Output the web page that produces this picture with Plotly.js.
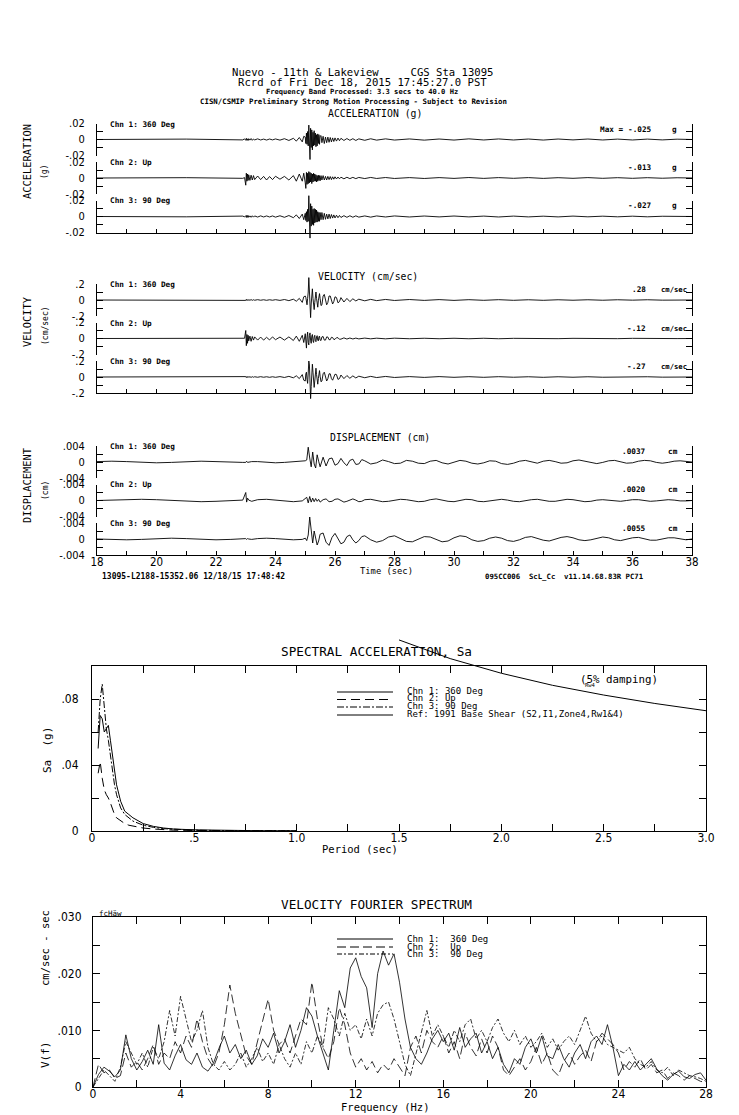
<!DOCTYPE html>
<html><head><meta charset="utf-8">
<script src="https://cdn.plot.ly/plotly-3.0.1.min.js"></script>
<style>html,body{margin:0;padding:0;background:#fff}</style>
</head><body><div id="chart" style="width:739px;height:1115px"></div>
<script>
// ---------------- DATA ----------------
const tAcc = [18.0,21.0,22.9,22.96,
 23.0,23.02,23.04,23.06,23.08,23.1,
 23.14,23.18,23.22,23.26,23.3,
 23.4,23.5,23.6,23.7,23.8,23.9,24.0,
 24.15,24.3,24.45,24.6,24.7,24.8,24.9,24.95,
 25.0,25.02,25.04,25.06,25.08,25.1,25.12,25.14,25.16,25.18,25.2,25.22,25.24,25.26,25.28,25.3,25.32,25.34,25.36,25.38,25.4,25.42,25.44,25.46,25.48,25.5,
 25.53,25.56,25.6,
 25.64,25.68,25.72,25.76,25.8,25.84,25.88,25.92,25.96,26.0,
 26.05,26.1,26.15,26.2,
 26.3,26.4,26.5,26.6,26.7,26.8,
 27.0,27.2,27.4,27.7,28.0,
 28.5,29.0,29.5,30.0,30.5,31.0,31.5,32.0,32.5,33.0,33.5,34.0,34.5,35.0,35.5,36.0,36.5,37.0,37.5,38.0];

const accCh1 = [0,.0005,-.0005,.0008,
 -.001,.0015,-.001,.0008,-.0012,.001,
 -.0008,.0012,-.001,.0006,-.0005,
 .0008,-.0006,.0005,-.0007,.0006,-.0005,.0007,
 -.0008,.001,-.0012,.0015,-.002,.0025,-.003,.004,
 .003,-.005,.008,-.006,.01,-.008,.018,-.012,-.025,.014,-.01,.012,-.013,.009,-.008,.011,-.007,.008,-.009,.006,-.008,.007,-.005,.006,-.006,.004,
 .005,-.004,.004,
 -.005,.003,-.004,.003,-.0035,.0025,-.003,.002,-.0025,.002,
 -.002,.0018,-.0015,.0015,
 -.0012,.0012,-.001,.001,-.0012,.0008,
 -.001,.0009,-.0008,.0008,-.0007,
 .0007,-.0008,.0006,-.0007,.0008,-.0006,.0007,-.0006,.0006,-.0007,.0006,-.0005,.0006,-.0006,.0005,-.0006,.0005,-.0005,.0004,0];
const accCh2 = [0,.0004,-.0004,.0005,
 -.009,.006,-.004,.005,-.003,.004,
 -.003,.0035,-.0025,.003,-.002,
 .0025,-.002,.002,-.0025,.0018,-.002,.0022,
 -.0015,.002,-.0025,.003,-.004,.005,-.004,.006,
 -.006,-.013,.007,-.008,.006,-.007,.008,-.006,.007,-.005,.006,-.007,.005,-.005,.006,-.004,.005,-.004,.004,-.005,.003,-.004,.0035,-.003,.003,-.0035,
 .003,-.0025,.003,
 -.0025,.002,-.0025,.002,-.002,.0018,-.002,.0015,-.0015,.0015,
 -.0012,.0012,-.001,.001,
 -.001,.0009,-.0008,.0008,-.0008,.0007,
 -.0007,.0007,-.0006,.0006,-.0006,
 .0005,-.0006,.0005,-.0005,.0006,-.0005,.0005,-.0004,.0005,-.0005,.0004,-.0004,.0005,-.0004,.0004,-.0004,.0004,-.0003,.0003,0];
const accCh3 = [0,-.0004,.0005,-.0005,
 .001,-.0012,.0015,-.001,.0012,-.001,
 .0008,-.001,.0009,-.0008,.0007,
 -.0007,.0008,-.0006,.0007,-.0006,.0007,-.0008,
 .0009,-.001,.0012,-.0015,.002,-.0025,.003,-.004,
 .004,-.005,.006,-.007,.009,-.006,.026,-.015,-.027,.016,-.012,.013,-.01,.009,-.011,.01,-.008,.009,-.007,.008,-.007,.006,-.006,.005,-.006,.005,
 -.004,.005,-.004,
 .004,-.0035,.003,-.003,.003,-.0025,.0025,-.002,.002,-.0018,
 .0016,-.0015,.0013,-.0012,
 .001,-.001,.0009,-.0009,.0008,-.0008,
 .0007,-.0008,.0007,-.0006,.0007,
 -.0006,.0006,-.0005,.0006,-.0005,.0005,-.0006,.0005,-.0005,.0004,-.0005,.0005,-.0004,.0004,-.0004,.0004,-.0004,.0003,-.0003,0];

const velCh1 = [0,.002,-.003,.003,
 -.005,.008,-.006,.004,-.006,.005,
 -.004,.005,-.004,.003,-.003,
 .004,-.003,.003,-.004,.003,-.003,.004,
 -.005,.006,-.008,.01,-.015,.02,-.03,.04,
 .05,.03,-.04,-.06,.02,.1,.28,.12,-.18,-.22,-.05,.12,.14,.02,-.1,-.12,-.03,.09,.1,.02,-.08,-.09,-.01,.07,.08,.02,
 -.07,-.06,.05,
 .07,-.02,-.06,-.03,.05,.05,-.02,-.05,-.02,.04,
 .03,-.035,-.02,.03,
 -.025,.02,-.02,.015,-.012,.01,
 -.01,.008,-.008,.007,-.006,
 .006,-.005,.005,-.005,.004,-.004,.004,-.004,.003,-.004,.003,-.003,.003,-.003,.003,-.002,.003,-.002,.002,0];
const velCh2 = [0,.002,-.002,.003,
 .1,-.09,.05,-.06,.04,-.03,
 .03,-.035,.025,-.02,.02,
 -.02,.018,-.02,.015,-.018,.02,-.015,
 .018,-.02,.02,-.025,.03,-.035,.04,-.05,
 .06,-.05,-.12,.02,.08,-.05,-.08,.04,.07,-.02,-.06,.03,.05,-.03,-.05,.02,.04,-.03,-.04,.02,.035,-.02,-.03,.02,.03,-.02,
 -.025,.02,.025,
 -.02,-.02,.02,.018,-.015,-.015,.015,.012,-.012,-.01,
 .01,.01,-.01,-.008,
 .008,-.007,.006,-.006,.005,-.005,
 .005,-.004,.004,-.004,.004,
 -.003,.003,-.003,.003,-.003,.003,-.003,.002,-.002,.002,-.002,.002,-.002,.002,-.002,.002,-.002,.002,-.001,0];
const velCh3 = [0,-.002,.003,-.003,
 .005,-.007,.006,-.005,.006,-.004,
 .004,-.005,.004,-.003,.003,
 -.003,.004,-.003,.003,-.004,.003,-.004,
 .005,-.006,.008,-.01,.015,-.02,.03,-.04,
 -.05,.04,.06,-.03,-.08,.05,.2,.15,-.15,-.27,-.12,.1,.16,.06,-.08,-.13,-.05,.07,.11,.03,-.07,-.09,-.02,.06,.08,.01,
 -.06,-.05,.04,
 .06,-.02,-.05,-.02,.04,.04,-.02,-.04,-.01,.035,
 .03,-.03,-.02,.025,
 -.02,.018,-.016,.014,-.012,.01,
 -.009,.008,-.007,.007,-.006,
 .005,-.005,.005,-.004,.004,-.004,.004,-.003,.003,-.004,.003,-.003,.003,-.003,.002,-.002,.003,-.002,.002,0];

const tDisp = [18.0,18.5,19.0,19.5,20.0,20.5,21.0,21.5,22.0,22.5,22.9,
 23.0,23.03,23.06,23.1,
 23.2,23.4,23.7,24.0,24.3,24.6,24.9,
 25.0,25.05,25.1,25.15,25.2,25.25,25.3,25.35,25.4,25.45,25.5,
 25.6,25.7,25.8,25.9,26.0,26.1,26.2,26.3,26.4,26.5,26.6,26.7,26.8,26.9,
 27.0,27.2,27.4,27.6,27.8,28.0,28.2,28.4,28.6,28.8,29.0,29.2,29.4,29.6,29.8,30.0,30.2,30.4,30.6,30.8,
 31.0,31.2,31.4,31.6,31.8,32.0,32.2,32.4,32.6,32.8,33.0,33.2,33.4,33.6,33.8,34.0,34.2,34.4,34.6,34.8,
 35.0,35.2,35.4,35.6,35.8,36.0,36.2,36.4,36.6,36.8,37.0,37.2,37.4,37.6,37.8,38.0];
const dispCh1 = [.0001,.0002,.0001,-.0001,-.0002,-.0001,.0001,.0002,.0001,-.0001,-.0001,
 -.0001,.0002,-.0001,0,
 .0001,.0001,-.0001,-.0002,-.0001,.0001,.0002,
 .0003,.0005,.0037,.0010,-.0012,.0025,-.0005,-.0015,.0018,.0002,-.0012,
 .0012,-.0010,.0008,.0010,-.0008,-.0004,.0009,-.0002,-.0009,.0004,.0007,-.0006,-.0005,.0006,
 .0003,-.0005,-.0002,.0005,.0001,-.0004,-.0003,.0004,
 .0002,-.0003,-.0004,.0002,.0004,-.0002,-.0005,0,
 .0004,.0002,-.0003,-.0005,-.0002,.0003,.0002,-.0004,
 -.0006,-.0003,.0002,.0004,0,-.0003,.0002,.0004,
 .0001,-.0003,-.0002,.0003,.0005,.0002,-.0002,-.0004,
 -.0001,.0003,.0004,.0001,-.0003,-.0002,.0002,.0004,
 .0003,-.0001,-.0003,-.0001,.0002,.0003,.0001,0];
const dispCh2 = [0,.0001,.0002,.0003,.0002,0,-.0002,-.0003,-.0002,0,.0001,
 .0020,-.0004,.0006,.0001,
 -.0002,.0002,.0003,.0001,-.0002,-.0003,-.0001,
 .0004,.0008,-.0006,.0010,-.0004,.0006,-.0003,.0005,-.0002,.0003,-.0004,
 .0002,.0004,-.0003,-.0002,.0003,.0004,-.0001,-.0004,-.0002,.0002,.0004,.0001,-.0003,-.0002,
 .0002,.0003,0,-.0003,-.0002,.0001,.0003,.0002,
 -.0001,-.0003,-.0002,.0002,.0004,.0001,-.0002,-.0003,
 0,.0003,.0002,-.0002,-.0003,-.0001,.0002,.0003,
 .0001,-.0002,-.0003,0,.0002,.0003,.0001,-.0002,
 -.0002,.0001,.0003,.0002,-.0001,-.0003,-.0002,.0001,
 .0002,.0001,-.0001,-.0002,0,.0002,.0002,0,
 -.0002,-.0001,.0001,.0002,.0001,-.0001,-.0001,0];
const dispCh3 = [0,-.0001,-.0002,-.0001,.0001,.0002,.0001,-.0001,-.0002,-.0001,0,
 .0001,-.0001,.0001,0,
 -.0001,.0001,.0002,.0001,-.0001,-.0002,-.0001,
 .0002,-.0004,.0010,.0055,.0015,-.0010,.0020,.0005,-.0015,-.0005,.0012,
 .0015,-.0008,-.0016,.0004,.0014,.0002,-.0012,-.0008,.0006,.0010,-.0002,-.0010,-.0004,.0006,
 .0008,-.0002,-.0008,-.0004,.0005,.0008,.0001,-.0006,
 -.0007,0,.0006,.0005,-.0002,-.0007,-.0005,.0003,
 .0008,.0006,-.0002,-.0006,-.0004,.0002,.0005,.0002,
 -.0004,-.0006,-.0002,.0004,.0006,.0002,-.0003,-.0005,
 -.0001,.0004,.0006,.0003,-.0002,-.0004,-.0002,.0002,
 .0005,.0003,-.0002,-.0004,-.0001,.0003,.0004,.0001,
 -.0003,-.0003,0,.0003,.0003,0,-.0002,0];

const chanNames = ['Chn 1: 360 Deg','Chn 2: Up','Chn 3: 90 Deg'];
const accMax = ['-.025','-.013','-.027'];
const velMax = ['.28','-.12','-.27'];
const dispMax = ['.0037','.0020','.0055'];
const secTicks = [18,19,20,21,22,23,24,25,26,27,28,29,30,31,32,33,34,35,36,37,38];
const secLabels = ['18','','20','','22','','24','','26','','28','','30','','32','','34','','36','','38'];

// Spectral acceleration
const saPeriod = [0.03,0.04,0.05,0.06,0.07,0.08,0.09,0.10,0.11,0.12,0.14,0.16,0.18,0.20,0.25,0.30,0.35,0.40,0.50,0.60,0.80,1.00];
const saCh1 = [.050,.070,.068,.060,.062,.064,.055,.045,.036,.028,.018,.012,.010,.008,.0045,.0028,.0018,.0012,.0007,.0004,.0002,.0001];
const saCh2 = [.035,.042,.032,.025,.022,.020,.017,.013,.010,.008,.006,.0045,.0035,.003,.0018,.0012,.0008,.0005,.0003,.0002,.0001,.00005];
const saCh3 = [.060,.080,.089,.075,.062,.055,.045,.036,.028,.022,.014,.010,.008,.006,.0035,.0022,.0014,.0010,.0005,.0003,.0002,.0001];
const refPeriod = [1.5,1.75,2.0,2.25,2.5,2.75,3.0];
const refSa = [.1158,.1045,.0956,.0883,.0824,.0773,.0729];
const saXTicks = [0,.25,.5,.75,1,1.25,1.5,1.75,2,2.25,2.5,2.75,3];
const saXLabels = ['0','','.5','','1.0','','1.5','','2.0','','2.5','','3.0'];
const saYTicks = [0,.02,.04,.06,.08,.1];
const saYLabels = ['0','','.04','','.08',''];

// Velocity Fourier spectrum (0 to 28 Hz, every 0.25 Hz)
const fourCh1 = [0,.0022,.0035,.0028,.0018,.0030,.0092,.0050,
 .0030,.0045,.0065,.0040,.0110,.0042,.0030,.0055,
 .0075,.0048,.0040,.0060,.0035,.0028,.0042,.0068,
 .0090,.0060,.0075,.0050,.0065,.0040,.0055,.0085,
 .0070,.0095,.0060,.0080,.0110,.0070,.0100,.0140,
 .0125,.0090,.0060,.0030,.0100,.0170,.0140,.0210,
 .0228,.0195,.0175,.0105,.0200,.0240,.0215,.0235,
 .0185,.0120,.0070,.0050,.0040,.0060,.0085,.0100,
 .0080,.0095,.0065,.0105,.0070,.0085,.0095,.0060,
 .0080,.0050,.0070,.0040,.0025,.0050,.0040,.0070,
 .0085,.0060,.0090,.0055,.0050,.0075,.0050,.0035,
 .0060,.0075,.0050,.0080,.0090,.0075,.0110,.0070,
 .0020,.0040,.0030,.0045,.0030,.0040,.0050,.0032,
 .0020,.0012,.0022,.0028,.0018,.0015,.0022,.0025,
 .0012];
const fourCh2 = [0,.0040,.0025,.0030,.0015,.0020,.0060,.0035,
 .0045,.0030,.0050,.0075,.0040,.0060,.0050,.0080,
 .0060,.0090,.0070,.0120,.0080,.0050,.0035,.0060,
 .0110,.0180,.0130,.0090,.0055,.0040,.0080,.0120,
 .0155,.0100,.0075,.0085,.0060,.0090,.0120,.0110,
 .0185,.0120,.0070,.0050,.0080,.0140,.0110,.0060,
 .0035,.0050,.0030,.0045,.0025,.0040,.0030,.0050,
 .0035,.0020,.0070,.0090,.0060,.0100,.0080,.0070,
 .0090,.0060,.0080,.0050,.0095,.0070,.0055,.0085,
 .0060,.0090,.0070,.0030,.0020,.0035,.0050,.0030,
 .0045,.0070,.0040,.0060,.0030,.0020,.0045,.0060,
 .0040,.0055,.0065,.0045,.0080,.0095,.0085,.0075,
 .0060,.0030,.0045,.0035,.0050,.0030,.0040,.0025,
 .0030,.0015,.0025,.0020,.0012,.0020,.0015,.0010,
 .0008];
const fourCh3 = [0,.0015,.0030,.0020,.0010,.0035,.0080,.0060,
 .0040,.0060,.0035,.0070,.0050,.0080,.0135,.0090,
 .0160,.0120,.0080,.0100,.0135,.0070,.0040,.0030,
 .0045,.0030,.0040,.0060,.0035,.0050,.0070,.0045,
 .0060,.0040,.0075,.0050,.0035,.0060,.0040,.0080,
 .0060,.0090,.0070,.0140,.0120,.0090,.0130,.0100,
 .0110,.0085,.0120,.0090,.0130,.0145,.0150,.0120,
 .0080,.0040,.0020,.0060,.0100,.0135,.0090,.0110,
 .0090,.0070,.0100,.0080,.0110,.0120,.0085,.0100,
 .0080,.0105,.0120,.0095,.0080,.0100,.0075,.0090,
 .0070,.0080,.0095,.0070,.0085,.0065,.0080,.0090,
 .0075,.0100,.0125,.0095,.0080,.0090,.0075,.0070,
 .0065,.0060,.0070,.0050,.0040,.0035,.0045,.0030,
 .0025,.0035,.0020,.0030,.0025,.0020,.0018,.0015,
 .0010];
const fxTicks = [0,2,4,6,8,10,12,14,16,18,20,22,24,26,28];
const fxLabels = ['0','','4','','8','','12','','16','','20','','24','','28'];
const fyTicks = [0,.005,.01,.015,.02,.025,.03];
const fyLabels = ['0','','.010','','.020','','.030'];

// ---------------- LAYOUT ----------------
const W = 739, H = 1115;
const px = x => x / W, py = y => 1 - y / H;
const MONO = 'DejaVu Sans Mono, Liberation Mono, monospace';
const NUM = 'Liberation Sans Narrow, DejaVu Sans Condensed, Liberation Sans, Arial, sans-serif';
const NB = '\u00A0';
const BLK = '#000000';

const L = {width: W, height: H, margin: {l:0, r:0, t:0, b:0}, paper_bgcolor: '#ffffff',
  plot_bgcolor: 'rgba(0,0,0,0)', showlegend: false, font: {family: MONO, size: 10, color: BLK},
  annotations: [], shapes: []};
const traces = [];

function ann(text, x, y, size, o) {
  L.annotations.push(Object.assign({text: text, x: px(x), y: py(y), xref: 'paper', yref: 'paper',
    showarrow: false, xanchor: 'center', yanchor: 'middle',
    font: {family: MONO, size: size, color: BLK}}, o || {}));
}
function legLine(x0, x1, y, dash) {
  L.shapes.push({type: 'line', xref: 'paper', yref: 'paper', x0: px(x0), x1: px(x1), y0: py(y), y1: py(y),
    line: {color: BLK, width: 1, dash: dash}});
}

const HALF = 16, DHALF = 36;
const panels = [
  {xa: 'x', xk: 'xaxis', zeros: [139.5, 178, 216.5], R: .02, tt: ['-.02','','0','','.02'], t: tAcc,
   s: [accCh1, accCh2, accCh3], mx: accMax, unit: 'g', vx: 654, ux: 670},
  {xa: 'x2', xk: 'xaxis2', zeros: [300, 338.5, 377], R: .2, tt: ['-.2','','0','','.2'], t: tAcc,
   s: [velCh1, velCh2, velCh3], mx: velMax, unit: 'cm/sec', vx: 648, ux: 659},
  {xa: 'x3', xk: 'xaxis3', zeros: [462, 500.5, 539], R: .004, tt: ['-.004','','0','','.004'], t: tDisp,
   s: [dispCh1, dispCh2, dispCh3], mx: dispMax, unit: 'cm', vx: 648, ux: 666}
];
panels.forEach((p, pi) => {
  p.zeros.forEach((z, si) => {
    const k = pi * 3 + si + 1, dk = 9 + k;
    L['yaxis' + (k === 1 ? '' : k)] = {domain: [py(z + HALF), py(z - HALF)], range: [-p.R, p.R], anchor: p.xa,
      showline: true, linecolor: BLK, linewidth: 1, mirror: 'ticks', ticks: 'inside', ticklen: 6, tickcolor: BLK,
      tickvals: [-p.R, -p.R / 2, 0, p.R / 2, p.R], ticktext: p.tt, tickfont: {family: NUM, size: 11, color: BLK},
      ticklabelstandoff: 9, showgrid: false, zeroline: false, fixedrange: true};
    L['yaxis' + dk] = {domain: [py(z + DHALF), py(z - DHALF)], range: [-p.R * DHALF / HALF, p.R * DHALF / HALF],
      anchor: p.xa, visible: false, fixedrange: true};
    // placeholder (draws nothing) so the strip's own framed axis is created
    traces.push({x: [18], y: [0], xaxis: p.xa, yaxis: 'y' + (k === 1 ? '' : k), mode: 'lines',
      line: {color: BLK, width: 0}, hoverinfo: 'skip'});
    traces.push({x: p.t, y: p.s[si], xaxis: p.xa, yaxis: 'y' + dk, mode: 'lines',
      line: {color: BLK, width: 0.9}, hoverinfo: 'skip'});
    ann('<b>' + chanNames[si] + '</b>', 108, z - 15.5, 7.7, {xanchor: 'left'});
    ann('<b>' + p.mx[si] + '</b>', p.vx, z - 10.5, 7.7, {xanchor: 'right'});
    ann('<b>' + p.unit + '</b>', p.ux, z - 10.5, pi === 1 ? 7.2 : 7.7, {xanchor: 'left'});
  });
  L[p.xk] = {domain: [px(97), px(692)], range: [18, 38], anchor: 'y' + (pi * 3 + 3), showline: true,
    linecolor: BLK, linewidth: 1, ticks: 'inside', ticklen: 4, tickcolor: BLK, tickvals: secTicks,
    ticktext: secLabels, showticklabels: pi === 2, tickfont: {family: NUM, size: 11.5, color: BLK},
    ticklabelstandoff: -4, showgrid: false, zeroline: false, fixedrange: true};
});
ann('<b>Max =</b>', 598, 129, 7.7, {xanchor: 'left'});

// Spectral acceleration axes
L.xaxis4 = {domain: [px(92), px(706)], range: [0, 3], anchor: 'y19', showline: true, linecolor: BLK, mirror: 'ticks',
  ticks: 'inside', ticklen: 7, tickcolor: BLK, tickvals: saXTicks, ticktext: saXLabels,
  tickfont: {family: NUM, size: 12, color: BLK}, ticklabelstandoff: -4, showgrid: false, zeroline: false, fixedrange: true};
L.yaxis19 = {domain: [py(831), py(666)], range: [0, .1], anchor: 'x4', showline: true, linecolor: BLK, mirror: 'ticks',
  ticks: 'inside', ticklen: 7, tickcolor: BLK, tickvals: saYTicks, ticktext: saYLabels,
  tickfont: {family: NUM, size: 12, color: BLK}, ticklabelstandoff: 10, showgrid: false, zeroline: false, fixedrange: true};
L.yaxis20 = {domain: [py(831), py(636)], range: [0, 195 / 1650], anchor: 'x4', visible: false, fixedrange: true};
traces.push({x: saPeriod, y: saCh1, xaxis: 'x4', yaxis: 'y19', mode: 'lines', line: {color: BLK, width: 1}, hoverinfo: 'skip'});
traces.push({x: saPeriod, y: saCh2, xaxis: 'x4', yaxis: 'y19', mode: 'lines', line: {color: BLK, width: 1, dash: '9px,5px'}, hoverinfo: 'skip'});
traces.push({x: saPeriod, y: saCh3, xaxis: 'x4', yaxis: 'y19', mode: 'lines', line: {color: BLK, width: 1, dash: '7px,2px,2px,2px'}, hoverinfo: 'skip'});
traces.push({x: refPeriod, y: refSa, xaxis: 'x4', yaxis: 'y20', mode: 'lines', line: {color: BLK, width: 1}, hoverinfo: 'skip'});

// Fourier axes
L.xaxis5 = {domain: [px(93), px(706)], range: [0, 28], anchor: 'y21', showline: true, linecolor: BLK, mirror: 'ticks',
  ticks: 'inside', ticklen: 7, tickcolor: BLK, tickvals: fxTicks, ticktext: fxLabels,
  tickfont: {family: NUM, size: 12, color: BLK}, ticklabelstandoff: -4, showgrid: false, zeroline: false, fixedrange: true};
L.yaxis21 = {domain: [py(1087), py(917)], range: [0, .03], anchor: 'x5', showline: true, linecolor: BLK, mirror: 'ticks',
  ticks: 'inside', ticklen: 7, tickcolor: BLK, tickvals: fyTicks, ticktext: fyLabels,
  tickfont: {family: NUM, size: 12, color: BLK}, ticklabelstandoff: 8, showgrid: false, zeroline: false, fixedrange: true};
traces.push({x0: 0, dx: 0.25, y: fourCh1, xaxis: 'x5', yaxis: 'y21', mode: 'lines', line: {color: BLK, width: 0.8}, hoverinfo: 'skip'});
traces.push({x0: 0, dx: 0.25, y: fourCh2, xaxis: 'x5', yaxis: 'y21', mode: 'lines', line: {color: BLK, width: 0.8, dash: '9px,4px'}, hoverinfo: 'skip'});
traces.push({x0: 0, dx: 0.25, y: fourCh3, xaxis: 'x5', yaxis: 'y21', mode: 'lines', line: {color: BLK, width: 0.8, dash: '5px,2px,2px,2px'}, hoverinfo: 'skip'});

// ---------------- TEXT ----------------
ann('Nuevo - 11th & Lakeview' + NB.repeat(5) + 'CGS Sta 13095', 362.5, 72, 10.6);
ann('Rcrd of Fri Dec 18, 2015 17:45:27.0 PST', 362.5, 82, 10.6);
ann('<b>Frequency Band Processed: 3.3 secs to 40.0 Hz</b>', 361.5, 92, 7.1);
ann('<b>CISN/CSMIP Preliminary Strong Motion Processing - Subject to Revision</b>', 353, 101, 7.4);
ann('ACCELERATION (g)', 375, 114, 9.8);
ann('VELOCITY (cm/sec)', 368, 276, 9.8);
ann('DISPLACEMENT (cm)', 380, 437, 9.8);
ann('ACCELERATION', 27, 162, 10.4, {textangle: -90});
ann('(g)', 45, 172, 8, {textangle: -90});
ann('VELOCITY', 27, 322, 10.4, {textangle: -90});
ann('(cm/sec)', 45, 326, 8, {textangle: -90});
ann('DISPLACEMENT', 27, 485, 10.4, {textangle: -90});
ann('(cm)', 45, 491, 8, {textangle: -90});
ann('Time (sec)', 386, 571, 8.8);
ann('<b>13095-L2188-15352.06 12/18/15 17:48:42</b>', 100, 576, 8, {xanchor: 'left'});
ann('<b>095CC006' + NB + NB + 'ScL_Cc' + NB + NB + 'v11.14.68.83R PC71</b>', 483, 576, 7.3, {xanchor: 'left'});

ann('SPECTRAL ACCELERATION, Sa', 376, 651, 12.7);
ann('(5% damping)', 619, 679, 10.8);
ann('Rw4', 590, 685, 5.5);
ann('Sa  (g)', 47, 750, 11, {textangle: -90});
ann('Period (sec)', 360, 849, 10.5);
legLine(337, 393, 692, 'solid');
legLine(337, 393, 699.5, '9px,5px');
legLine(337, 393, 707, '7px,2px,2px,2px');
legLine(337, 393, 715, 'solid');
ann('Chn 1: 360 Deg', 405, 691, 9, {xanchor: 'left'});
ann('Chn 2: Up', 405, 698, 9, {xanchor: 'left'});
ann('Chn 3: 90 Deg', 405, 705.5, 9, {xanchor: 'left'});
ann('Ref: 1991 Base Shear (S2,I1,Zone4,Rw1&4)', 405, 713.5, 9, {xanchor: 'left'});

ann('VELOCITY FOURIER SPECTRUM', 376, 904, 12.7);
ann('fcHäw', 97, 913, 7.5, {xanchor: 'left'});
ann('V(f)', 45, 1055, 11, {textangle: -90});
ann('cm/sec - sec', 45, 948, 10.5, {textangle: -90});
ann('Frequency (Hz)', 385, 1107, 10.5);
legLine(337, 393, 939, 'solid');
legLine(337, 393, 947, '9px,4px');
legLine(337, 393, 954, '5px,2px,2px,2px');
ann('Chn 1:' + NB + NB + '360 Deg', 405, 938.5, 9, {xanchor: 'left'});
ann('Chn 2:' + NB + NB + 'Up', 405, 946.5, 9, {xanchor: 'left'});
ann('Chn 3:' + NB + NB + '90 Deg', 405, 954, 9, {xanchor: 'left'});

Plotly.newPlot('chart', traces, L, {displayModeBar: false, staticPlot: true});
</script></body></html>
